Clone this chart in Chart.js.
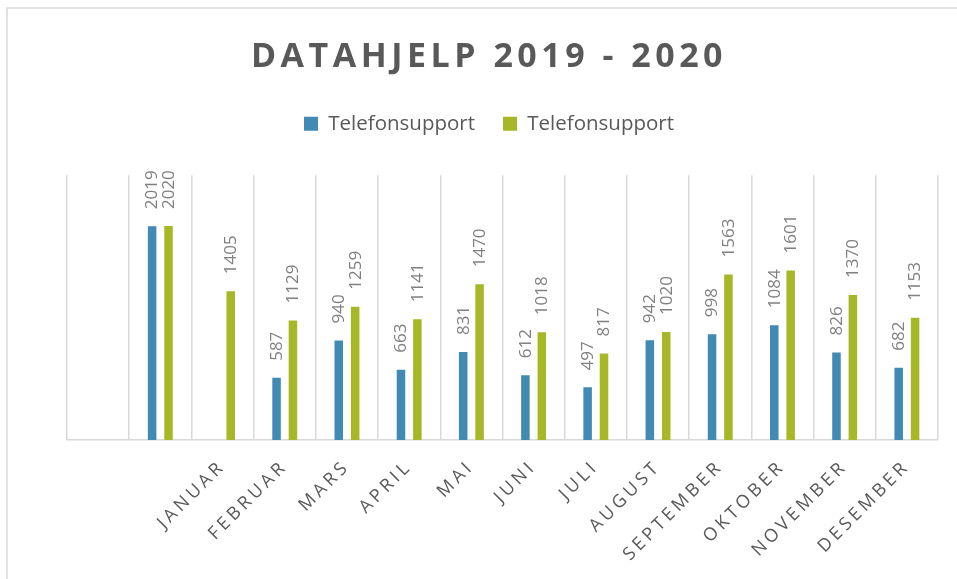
<!DOCTYPE html>
<html><head><meta charset="utf-8">
<script src="https://cdn.jsdelivr.net/npm/chart.js@4/dist/chart.umd.min.js"></script>
<style>html,body{margin:0;padding:0;background:#fff;overflow:hidden}#wrap{position:relative;width:957px;height:579px}</style>
</head><body><div id="wrap"><canvas id="c"></canvas></div>
<script>
const categories = ['', '', 'JANUAR', 'FEBRUAR', 'MARS', 'APRIL', 'MAI', 'JUNI', 'JULI', 'AUGUST', 'SEPTEMBER', 'OKTOBER', 'NOVEMBER', 'DESEMBER'];
const seriesNames = ['Telefonsupport', 'Telefonsupport'];
const series1 = [null, 2019, null, 587, 940, 663, 831, 612, 497, 942, 998, 1084, 826, 682];
const series2 = [null, 2020, 1405, 1129, 1259, 1141, 1470, 1018, 817, 1020, 1563, 1601, 1370, 1153];
const titleText = 'DATAHJELP 2019 - 2020';
const yMin = 0;
const yMax = 2500;

const FONT = "'Open Sans', 'Noto Sans', 'DejaVu Sans', sans-serif";

const framePlugin = {
  id: 'frame',
  beforeDraw(chart) {
    const ctx = chart.ctx;
    ctx.save();
    ctx.strokeStyle = '#d9d9d9';
    ctx.lineWidth = 1.5;
    ctx.strokeRect(7, 8, 1400, 1400);
    ctx.restore();
  }
};

const spacingPlugin = {
  id: 'spacing',
  beforeDraw(chart) {
    const patch = (obj, method, spacing) => {
      if (!obj || obj['_ls_' + method]) return;
      const orig = obj[method];
      obj[method] = function (...args) {
        const ctx = chart.ctx;
        ctx.save();
        ctx.letterSpacing = spacing + 'px';
        orig.apply(this, args);
        ctx.restore();
      };
      obj['_ls_' + method] = true;
    };
    patch(chart.titleBlock, 'draw', 4.5);
    patch(chart.scales.x, 'drawLabels', 3.7);
  }
};

const valueLabelPlugin = {
  id: 'valueLabels',
  afterDatasetsDraw(chart) {
    const ctx = chart.ctx;
    chart.data.datasets.forEach((ds, i) => {
      const meta = chart.getDatasetMeta(i);
      meta.data.forEach((bar, j) => {
        const v = ds.data[j];
        if (v === null || v === undefined) return;
        ctx.save();
        ctx.translate(bar.x + 0.5, bar.y - 17);
        ctx.rotate(-Math.PI / 2);
        ctx.font = '17px ' + FONT;
        ctx.fillStyle = '#808080';
        ctx.textAlign = 'left';
        ctx.textBaseline = 'middle';
        ctx.fillText(String(v), 0, 0);
        ctx.restore();
      });
    });
  }
};

new Chart(document.getElementById('c'), {
  type: 'bar',
  data: {
    labels: categories,
    datasets: [
      { label: seriesNames[0], data: series1, backgroundColor: '#418AB3', categoryPercentage: 0.527, barPercentage: 0.52 },
      { label: seriesNames[1], data: series2, backgroundColor: '#A6B727', categoryPercentage: 0.527, barPercentage: 0.52 }
    ]
  },
  options: {
    responsive: true,
    maintainAspectRatio: false,
    animation: false,
    layout: { padding: { left: 40, right: 19, top: 0, bottom: 0 } },
    plugins: {
      title: {
        display: true,
        text: titleText,
        color: '#595959',
        font: { family: FONT, size: 34, weight: 'bold', lineHeight: 1.2 },
        padding: { top: 37, bottom: 7.65 }
      },
      legend: {
        display: true,
        position: 'top',
        labels: {
          color: '#595959',
          font: { family: FONT, size: 20.5 },
          boxWidth: 14,
          boxHeight: 14,
          padding: 28
        }
      },
      tooltip: { enabled: false }
    },
    scales: {
      x: {
        position: 'bottom',
        offset: true,
        grid: { display: true, offset: true, color: '#d9d9d9', lineWidth: 1.5, drawTicks: false },
        border: { display: true, color: '#d9d9d9', width: 1.5 },
        ticks: {
          autoSkip: false, maxRotation: 45, minRotation: 45,
          color: '#595959', font: { family: FONT, size: 18 }, padding: 16
        },
        afterFit(scale) { scale.height = 139; }
      },
      xTop: {
        type: 'category',
        position: 'top',
        labels: categories,
        grid: { display: false },
        border: { display: false },
        ticks: { display: false },
        afterFit(scale) { scale.height = 31.25; }
      },
      y: {
        min: yMin,
        max: yMax,
        display: true,
        grid: { display: false },
        border: { display: false },
        ticks: { display: false },
        afterFit(scale) { scale.width = 27; }
      }
    }
  },
  plugins: [framePlugin, spacingPlugin, valueLabelPlugin]
});
</script>
</body></html>
